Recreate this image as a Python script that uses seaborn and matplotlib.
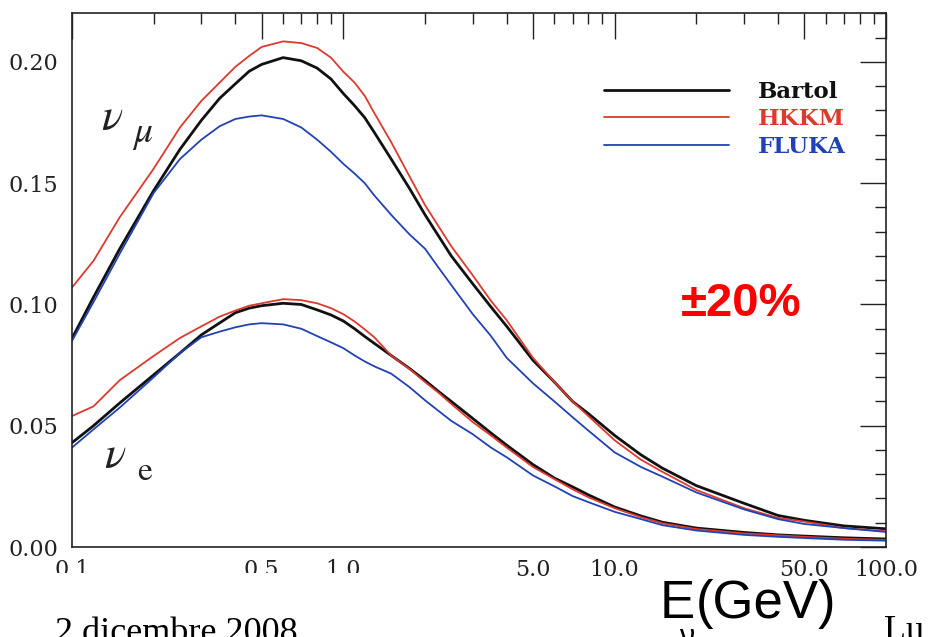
import matplotlib
matplotlib.use("Agg")
import numpy as np
import pandas as pd
import seaborn as sns
import matplotlib.pyplot as plt
from matplotlib.ticker import FixedLocator, FixedFormatter, NullFormatter
from matplotlib.patches import Rectangle

# ---------------- data ----------------
energy = [0.1, 0.12, 0.15, 0.2, 0.25, 0.3, 0.35, 0.4, 0.45, 0.5,
          0.6, 0.7, 0.8, 0.9, 1.0, 1.1, 1.2, 1.3, 1.5, 1.75,
          2, 2.25, 2.5, 3, 3.5, 4, 5, 6, 7, 8,
          10, 12.5, 15, 20, 30, 40, 50, 70, 100]

numu_bartol = [0.086, 0.103, 0.123, 0.147, 0.164, 0.176, 0.185, 0.191, 0.1962, 0.199,
               0.2018, 0.2005, 0.1975, 0.193, 0.187, 0.182, 0.177, 0.171, 0.160, 0.148,
               0.137, 0.128, 0.120, 0.1085, 0.099, 0.091, 0.077, 0.068, 0.060, 0.055,
               0.046, 0.038, 0.0325, 0.0253, 0.018, 0.013, 0.011, 0.0087, 0.0075]
numu_hkkm = [0.107, 0.118, 0.136, 0.156, 0.173, 0.184, 0.1915, 0.198, 0.2025, 0.2062,
             0.2085, 0.2078, 0.2058, 0.2018, 0.196, 0.1915, 0.186, 0.179, 0.167, 0.153,
             0.141, 0.132, 0.124, 0.112, 0.1015, 0.0935, 0.078, 0.068, 0.060, 0.054,
             0.044, 0.036, 0.031, 0.0235, 0.016, 0.012, 0.0105, 0.0078, 0.0065]
numu_fluka = [0.085, 0.101, 0.121, 0.146, 0.160, 0.168, 0.1735, 0.1765, 0.1775, 0.178,
              0.1765, 0.173, 0.168, 0.163, 0.158, 0.154, 0.150, 0.145, 0.137, 0.129,
              0.123, 0.115, 0.108, 0.096, 0.087, 0.078, 0.0675, 0.060, 0.0535, 0.048,
              0.039, 0.033, 0.029, 0.0225, 0.0155, 0.0115, 0.0095, 0.0078, 0.0062]

nue_bartol = [0.043, 0.050, 0.0594, 0.071, 0.080, 0.0875, 0.0924, 0.0966, 0.0985, 0.0995,
              0.1005, 0.1000, 0.0978, 0.0957, 0.0932, 0.090, 0.0868, 0.084, 0.079, 0.0737,
              0.0687, 0.064, 0.060, 0.053, 0.047, 0.042, 0.034, 0.0284, 0.0248, 0.0215,
              0.0165, 0.0128, 0.0102, 0.0078, 0.006, 0.005, 0.0045, 0.0038, 0.0033]
nue_hkkm = [0.054, 0.058, 0.0688, 0.0788, 0.0862, 0.091, 0.095, 0.0975, 0.0995, 0.1005,
            0.1022, 0.1018, 0.1005, 0.0985, 0.096, 0.093, 0.0897, 0.0865, 0.079, 0.0735,
            0.068, 0.0635, 0.059, 0.0515, 0.046, 0.041, 0.033, 0.028, 0.0238, 0.0205,
            0.016, 0.0123, 0.0098, 0.0074, 0.0056, 0.0048, 0.0042, 0.0034, 0.0029]
nue_fluka = [0.041, 0.0485, 0.0575, 0.070, 0.080, 0.0865, 0.0888, 0.0906, 0.0918, 0.0923,
             0.0918, 0.090, 0.087, 0.0844, 0.082, 0.079, 0.0765, 0.0745, 0.0715, 0.066,
             0.0605, 0.056, 0.052, 0.0465, 0.041, 0.037, 0.0295, 0.025, 0.021, 0.0185,
             0.0145, 0.0115, 0.009, 0.0068, 0.005, 0.0042, 0.0037, 0.003, 0.0026]

models = ["Bartol", "HKKM", "FLUKA"]
x_ticks = [0.1, 0.5, 1.0, 5.0, 10.0, 50.0, 100.0]
x_tick_labels = ["0.1", "0.5", "1.0", "5.0", "10.0", "50.0", "100.0"]
y_ticks = [0.0, 0.05, 0.10, 0.15, 0.20]
y_tick_labels = ["0.00", "0.05", "0.10", "0.15", "0.20"]

# ---------------- long-form table ----------------
series = {
    ("Bartol", "numu"): numu_bartol, ("HKKM", "numu"): numu_hkkm, ("FLUKA", "numu"): numu_fluka,
    ("Bartol", "nue"): nue_bartol, ("HKKM", "nue"): nue_hkkm, ("FLUKA", "nue"): nue_fluka,
}
rows = []
for (model, flavor), vals in series.items():
    for e, v in zip(energy, vals):
        rows.append({"E": e, "flux": v, "model": model, "flavor": flavor})
df = pd.DataFrame(rows)

# ---------------- style ----------------
sns.set_style("white")
plt.rcParams["font.family"] = ["DejaVu Serif"]
plt.rcParams["mathtext.fontset"] = "stix"

RED = "#dd3a2e"
BLUE = "#2142b4"
palette = {"Bartol": "#111111", "HKKM": RED, "FLUKA": BLUE}
sizes = {"Bartol": 2.0, "HKKM": 1.3, "FLUKA": 1.3}

fig = plt.figure(figsize=(9.33, 6.37), dpi=100)
ax = fig.add_axes([72 / 933, 1 - 547 / 637, 814 / 933, 534 / 637])

sns.lineplot(data=df, x="E", y="flux", hue="model", size="model", units="flavor",
             estimator=None, hue_order=models, size_order=models,
             palette=palette, sizes=sizes, sort=True, ax=ax, legend="full")

ax.set_xscale("log")
ax.set_xlim(0.1, 100)
ax.set_ylim(0.0, 0.2202)
ax.set_xlabel("")
ax.set_ylabel("")

ax.xaxis.set_major_locator(FixedLocator(x_ticks))
ax.xaxis.set_major_formatter(FixedFormatter(x_tick_labels))
minor_x = [m * d for d in (0.1, 1, 10) for m in range(2, 10) if m != 5]
ax.xaxis.set_minor_locator(FixedLocator(minor_x))
ax.xaxis.set_minor_formatter(NullFormatter())
ax.yaxis.set_major_locator(FixedLocator(y_ticks))
ax.yaxis.set_major_formatter(FixedFormatter(y_tick_labels))
ax.yaxis.set_minor_locator(FixedLocator([i * 0.01 for i in range(0, 23) if i % 5]))

ax.tick_params(which="both", direction="in", top=True, right=True, color="#222222",
               width=1.0)
ax.tick_params(which="major", length=19, labelsize=16, pad=10, labelcolor="#222222")
ax.tick_params(axis="x", which="major", pad=8.5)
ax.tick_params(which="minor", length=8)
for s in ax.spines.values():
    s.set_color("#222222")
    s.set_linewidth(1.2)

# legend
sns.move_legend(ax, "upper left", bbox_to_anchor=(0.639, 0.895), title=None,
                frameon=False, borderpad=0, handlelength=5.45, handletextpad=1.3,
                labelspacing=0.25, prop={"family": "DejaVu Serif", "weight": "bold", "size": 16.5})
leg = ax.get_legend()
for txt, c in zip(leg.get_texts(), [palette[m] for m in models]):
    txt.set_color(c)

# curve labels
ax.text(0.036, 0.781, r"$\nu$", transform=ax.transAxes, fontsize=32, color="#222222",
        va="baseline")
ax.text(0.0737, 0.758, r"$\mu$", transform=ax.transAxes, fontsize=27, color="#222222",
        va="baseline")
ax.text(0.039, 0.148, r"$\nu$", transform=ax.transAxes, fontsize=32, color="#222222",
        va="baseline")
ax.text(0.080, 0.1255, r"$\mathrm{e}$", transform=ax.transAxes, fontsize=24, color="#222222",
        va="baseline")

# cover that hides lower part of left tick labels (slide overlay)
fig.patches.append(Rectangle((0, 0), 430 / 933, 1 - 573 / 637, transform=fig.transFigure,
                             facecolor="white", edgecolor="none", zorder=5))

# slide texts
fig.text(741 / 933, 1 - 304 / 637, "\u00b120%", ha="center", va="center", color="#ff0000",
         fontsize=34, fontweight="bold", family="Liberation Sans", zorder=6)
fig.text(660 / 933, 1 - 618 / 637, "E", ha="left", va="baseline", fontsize=38,
         family="Liberation Sans", color="black", zorder=6)
fig.text(679 / 933, 1 - 646 / 637, "\u03bd", ha="left", va="baseline", fontsize=22,
         family="Liberation Sans", color="black", zorder=6)
fig.text(696 / 933, 1 - 618 / 637, "(GeV)", ha="left", va="baseline", fontsize=38,
         family="Liberation Sans", color="black", zorder=6)
fig.text(55 / 933, 1 - 617 / 637, "2 dicembre 2008", ha="left", va="top", fontsize=26,
         family="Liberation Serif", color="black", zorder=6)
fig.text(884 / 933, 1 - 615 / 637, "Lu", ha="left", va="top", fontsize=26,
         family="Liberation Serif", color="black", zorder=6)

fig.savefig("out.png", dpi=100)
